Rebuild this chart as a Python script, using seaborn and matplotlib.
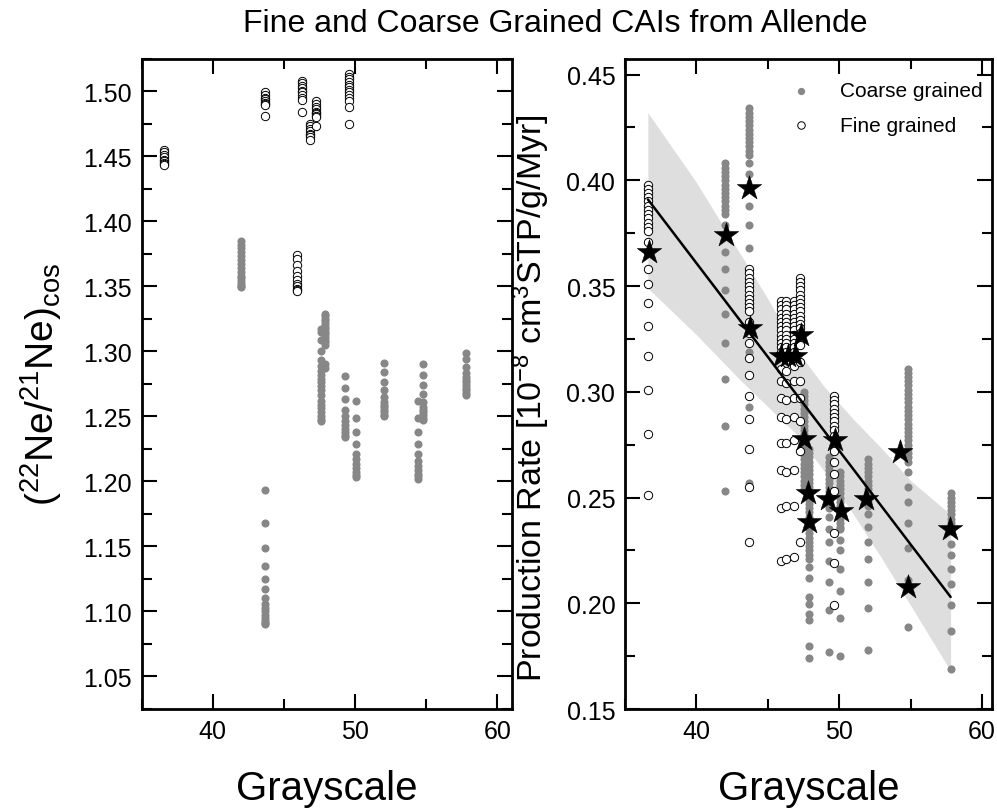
import numpy as np
import pandas as pd
import matplotlib
matplotlib.use('Agg')
import matplotlib.pyplot as plt
from matplotlib.ticker import MultipleLocator
import seaborn as sns

sns.set_style('ticks')
plt.rcParams['font.family'] = ['Liberation Sans', 'DejaVu Sans']
plt.rcParams['mathtext.fontset'] = 'custom'
plt.rcParams['mathtext.rm'] = 'Liberation Sans'
plt.rcParams['mathtext.it'] = 'Liberation Sans:italic'
#seaborn makes text dark gray, the original is black
for key in ['text.color', 'axes.labelcolor', 'xtick.color', 'ytick.color', 'axes.edgecolor']:
    plt.rcParams[key] = 'black'

#grayscale of each CAI
fine_x = [36.6, 43.7, 45.9, 46.3, 46.8, 47.25, 49.6]
coarse_x = [42.0, 43.65, 47.6, 47.9, 49.3, 50.05, 52.0, 54.4, 54.8, 57.8]
rate_coarse_x = [42.0, 43.65, 47.55, 47.85, 49.3, 50.05, 52.0, 54.8, 57.8]

#22Ne/21Ne cosmogenic ratios (left panel)
ne_fine = [
    [1.455, 1.453, 1.451, 1.449, 1.447, 1.446, 1.445, 1.444, 1.443],
    [1.499, 1.497, 1.495, 1.494, 1.492, 1.491, 1.490, 1.489, 1.481],
    [1.374, 1.371, 1.366, 1.362, 1.358, 1.355, 1.352, 1.350, 1.348, 1.347, 1.346],
    [1.508, 1.506, 1.504, 1.502, 1.500, 1.499, 1.497, 1.495, 1.493, 1.484],
    [1.475, 1.473, 1.471, 1.469, 1.467, 1.466, 1.465, 1.462],
    [1.492, 1.490, 1.488, 1.486, 1.484, 1.483, 1.482, 1.481, 1.480, 1.473],
    [1.513, 1.511, 1.509, 1.507, 1.505, 1.503, 1.501, 1.499, 1.497, 1.495, 1.492, 1.488, 1.475],
]
ne_coarse = [
    [1.385, 1.382, 1.379, 1.376, 1.373, 1.370, 1.367, 1.364, 1.361, 1.358, 1.356, 1.354, 1.352, 1.350, 1.349],
    [1.193, 1.168, 1.149, 1.135, 1.125, 1.117, 1.110, 1.106, 1.103, 1.100, 1.097, 1.095, 1.093, 1.091, 1.090],
    [1.317, 1.315, 1.309, 1.300, 1.293, 1.289, 1.285, 1.282, 1.279, 1.276, 1.273, 1.270, 1.266, 1.262,
     1.259, 1.256, 1.253, 1.250, 1.248, 1.246],
    [1.329, 1.327, 1.325, 1.323, 1.321, 1.319, 1.317, 1.315, 1.313, 1.311, 1.309, 1.307, 1.305, 1.290, 1.287],
    [1.281, 1.272, 1.263, 1.255, 1.250, 1.246, 1.243, 1.240, 1.238, 1.236, 1.234],
    [1.262, 1.249, 1.238, 1.229, 1.221, 1.217, 1.213, 1.210, 1.207, 1.205, 1.203],
    [1.291, 1.284, 1.276, 1.270, 1.265, 1.261, 1.259, 1.257, 1.255, 1.253, 1.251, 1.250],
    [1.262, 1.249, 1.238, 1.229, 1.221, 1.216, 1.212, 1.209, 1.206, 1.204, 1.202],
    [1.290, 1.282, 1.274, 1.267, 1.261, 1.257, 1.255, 1.253, 1.251, 1.249, 1.247],
    [1.299, 1.294, 1.288, 1.283, 1.280, 1.278, 1.276, 1.274, 1.272, 1.270, 1.268, 1.266],
]

#production rates (right panel)
rate_fine = [
    [0.398, 0.396, 0.394, 0.392, 0.390, 0.388, 0.386, 0.384, 0.382, 0.380, 0.378, 0.376, 0.371, 0.366,
     0.358, 0.351, 0.342, 0.331, 0.317, 0.301, 0.280, 0.251],
    [0.358, 0.356, 0.354, 0.352, 0.350, 0.348, 0.346, 0.344, 0.342, 0.340, 0.338, 0.333, 0.328, 0.323,
     0.316, 0.308, 0.298, 0.287, 0.273, 0.255, 0.229],
    [0.343, 0.341, 0.339, 0.337, 0.335, 0.333, 0.331, 0.329, 0.327, 0.325, 0.323, 0.321, 0.319, 0.317,
     0.311, 0.305, 0.297, 0.288, 0.276, 0.263, 0.245, 0.220],
    [0.343, 0.341, 0.339, 0.337, 0.335, 0.333, 0.331, 0.329, 0.327, 0.325, 0.323, 0.321, 0.319, 0.317,
     0.310, 0.304, 0.296, 0.287, 0.276, 0.262, 0.246, 0.221],
    [0.343, 0.341, 0.339, 0.337, 0.335, 0.333, 0.331, 0.329, 0.327, 0.325, 0.323, 0.321, 0.319, 0.317,
     0.312, 0.305, 0.297, 0.288, 0.277, 0.263, 0.246, 0.222],
    [0.354, 0.352, 0.350, 0.348, 0.346, 0.344, 0.342, 0.340, 0.338, 0.336, 0.334, 0.332, 0.330, 0.328,
     0.326, 0.324, 0.322, 0.314, 0.305, 0.297, 0.286, 0.272, 0.229],
    [0.298, 0.296, 0.294, 0.292, 0.290, 0.288, 0.286, 0.284, 0.282, 0.279, 0.272, 0.267, 0.261, 0.253,
     0.233, 0.219, 0.199],
]
rate_coarse = [
    [0.408, 0.406, 0.404, 0.402, 0.400, 0.398, 0.396, 0.394, 0.392, 0.390, 0.388, 0.386, 0.384, 0.379,
     0.374, 0.366, 0.358, 0.348, 0.337, 0.323, 0.306, 0.284, 0.253],
    [0.434, 0.432, 0.430, 0.428, 0.426, 0.424, 0.422, 0.420, 0.418, 0.416, 0.414, 0.412, 0.408, 0.403,
     0.388, 0.379, 0.368, 0.319, 0.293, 0.257],
    [0.300, 0.298, 0.296, 0.294, 0.292, 0.290, 0.288, 0.286, 0.284, 0.282, 0.280, 0.278, 0.276, 0.274,
     0.272, 0.270, 0.268, 0.266, 0.264, 0.262, 0.260, 0.258, 0.256, 0.254],
    [0.273, 0.271, 0.269, 0.267, 0.265, 0.263, 0.261, 0.259, 0.257, 0.255, 0.253, 0.251, 0.249, 0.247,
     0.245, 0.243, 0.241, 0.239, 0.237, 0.235, 0.233, 0.231, 0.229, 0.227, 0.225, 0.223, 0.221, 0.217,
     0.212, 0.203, 0.1995, 0.195, 0.192, 0.180, 0.174],
    [0.269, 0.267, 0.265, 0.263, 0.261, 0.259, 0.257, 0.255, 0.253, 0.251, 0.249, 0.247, 0.245, 0.241,
     0.235, 0.229, 0.220, 0.210, 0.197, 0.177],
    [0.262, 0.260, 0.258, 0.256, 0.254, 0.252, 0.250, 0.248, 0.246, 0.244, 0.242, 0.240, 0.238, 0.236,
     0.235, 0.230, 0.225, 0.216, 0.206, 0.193, 0.175],
    [0.268, 0.266, 0.264, 0.262, 0.260, 0.258, 0.256, 0.254, 0.252, 0.250, 0.248, 0.246, 0.242, 0.236,
     0.229, 0.221, 0.210, 0.198, 0.178],
    [0.311, 0.309, 0.307, 0.305, 0.303, 0.301, 0.299, 0.297, 0.295, 0.293, 0.291, 0.289, 0.287, 0.285,
     0.283, 0.281, 0.279, 0.277, 0.275, 0.273, 0.271, 0.269, 0.267, 0.262, 0.255, 0.248, 0.238, 0.226,
     0.211, 0.189],
    [0.252, 0.250, 0.248, 0.246, 0.244, 0.242, 0.240, 0.238, 0.236, 0.234, 0.228, 0.223, 0.216, 0.209,
     0.199, 0.187, 0.169],
]

#mean production rate per CAI (stars)
star_x = [36.65, 42.08, 43.67, 43.77, 45.94, 46.39, 46.88, 47.35, 47.53, 47.81, 47.88,
          49.68, 49.21, 50.15, 51.91, 54.29, 54.83, 57.75]
star_y = [0.366, 0.374, 0.3964, 0.330, 0.317, 0.317, 0.317, 0.327, 0.2776, 0.2523, 0.2385,
          0.2773, 0.2491, 0.2436, 0.2494, 0.2716, 0.2077, 0.235]

#linear fit and its confidence band
fit_x = [36.6, 40, 43, 45, 47, 49, 51, 53, 55, 57.8]
fit_y = [0.391, 0.361, 0.334, 0.317, 0.299, 0.281, 0.263, 0.246, 0.227, 0.203]
band_hi = [0.432, 0.399, 0.366, 0.344, 0.320, 0.302, 0.287, 0.273, 0.258, 0.242]
band_lo = [0.349, 0.327, 0.306, 0.293, 0.280, 0.262, 0.242, 0.221, 0.199, 0.168]


def long_df(xs, ys):
    rows = []
    for x, col in zip(xs, ys):
        for y in col:
            rows.append((x, y))
    return pd.DataFrame(rows, columns=['Grayscale', 'value'])


neFineDF = long_df(fine_x, ne_fine)
neCoarseDF = long_df(coarse_x, ne_coarse)
rateFineDF = long_df(fine_x, rate_fine)
rateCoarseDF = long_df(rate_coarse_x, rate_coarse)
starDF = pd.DataFrame({'Grayscale': star_x, 'value': star_y})

gray = '#878787'
fig = plt.figure(figsize=(9.97, 8.12), dpi=100)
ax1 = fig.add_axes([0.1421, 0.1256, 0.3711, 0.8011])
ax2 = fig.add_axes([0.6269, 0.1256, 0.3681, 0.8011])

#left panel
sns.scatterplot(data=neCoarseDF, x='Grayscale', y='value', ax=ax1, color=gray, s=34,
                linewidth=0, zorder=3)
sns.scatterplot(data=neFineDF, x='Grayscale', y='value', ax=ax1, facecolor='white',
                edgecolor='black', s=36, linewidth=0.7, zorder=4)
ax1.set_xlim(35, 61)
ax1.set_ylim(1.025, 1.525)
ax1.yaxis.set_major_locator(MultipleLocator(0.05))
ax1.yaxis.set_minor_locator(MultipleLocator(0.025))
ax1.set_ylabel('($^{22}$Ne/$^{21}$Ne)$_{\\mathrm{cos}}$', fontsize=28)
ax1.yaxis.set_label_coords(-0.21, 0.5)

#right panel
ax2.fill_between(fit_x, band_lo, band_hi, color='#dedede', linewidth=0, zorder=1)
sns.scatterplot(data=rateCoarseDF, x='Grayscale', y='value', ax=ax2, color=gray, s=34,
                linewidth=0, zorder=3, label='Coarse grained')
sns.scatterplot(data=rateFineDF, x='Grayscale', y='value', ax=ax2, facecolor='white',
                edgecolor='black', s=36, linewidth=0.7, zorder=4, label='Fine grained')
sns.lineplot(x=[fit_x[0], fit_x[-1]], y=[fit_y[0], fit_y[-1]], ax=ax2, color='black',
             linewidth=1.8, zorder=5)
sns.scatterplot(data=starDF, x='Grayscale', y='value', ax=ax2, marker='*', color='black',
                s=340, linewidth=0.4, edgecolor='black', zorder=6)
ax2.set_xlim(35, 60.7)
ax2.set_ylim(0.15, 0.4576)
ax2.yaxis.set_major_locator(MultipleLocator(0.05))
ax2.yaxis.set_minor_locator(MultipleLocator(0.025))
ax2.set_ylabel('Production Rate [10$^{-8}$ cm$^{3}$STP/g/Myr]', fontsize=24.5)
ax2.yaxis.set_label_coords(-0.2, 0.48)

handles, labels = ax2.get_legend_handles_labels()
leg = ax2.legend(handles[:2], labels[:2], loc='upper left', bbox_to_anchor=(0.45, 0.965),
                 frameon=False, fontsize=15, handlelength=1, handletextpad=1.4,
                 labelspacing=0.75, borderpad=0, borderaxespad=0, markerscale=0.9)

for ax in (ax1, ax2):
    ax.xaxis.set_major_locator(MultipleLocator(10))
    ax.xaxis.set_minor_locator(MultipleLocator(5))
    ax.tick_params(which='both', direction='in', top=True, right=True, width=1.5,
                   labelsize=18, pad=7)
    ax.tick_params(which='major', length=11)
    ax.tick_params(which='minor', length=7)
    for sp in ax.spines.values():
        sp.set_linewidth(2)
        sp.set_visible(True)
    ax.set_xlabel('Grayscale', fontsize=29, labelpad=19)

fig.text(0.557, 0.971, 'Fine and Coarse Grained CAIs from Allende', fontsize=23,
         ha='center', va='center')

fig.savefig('out.png', dpi=100)
